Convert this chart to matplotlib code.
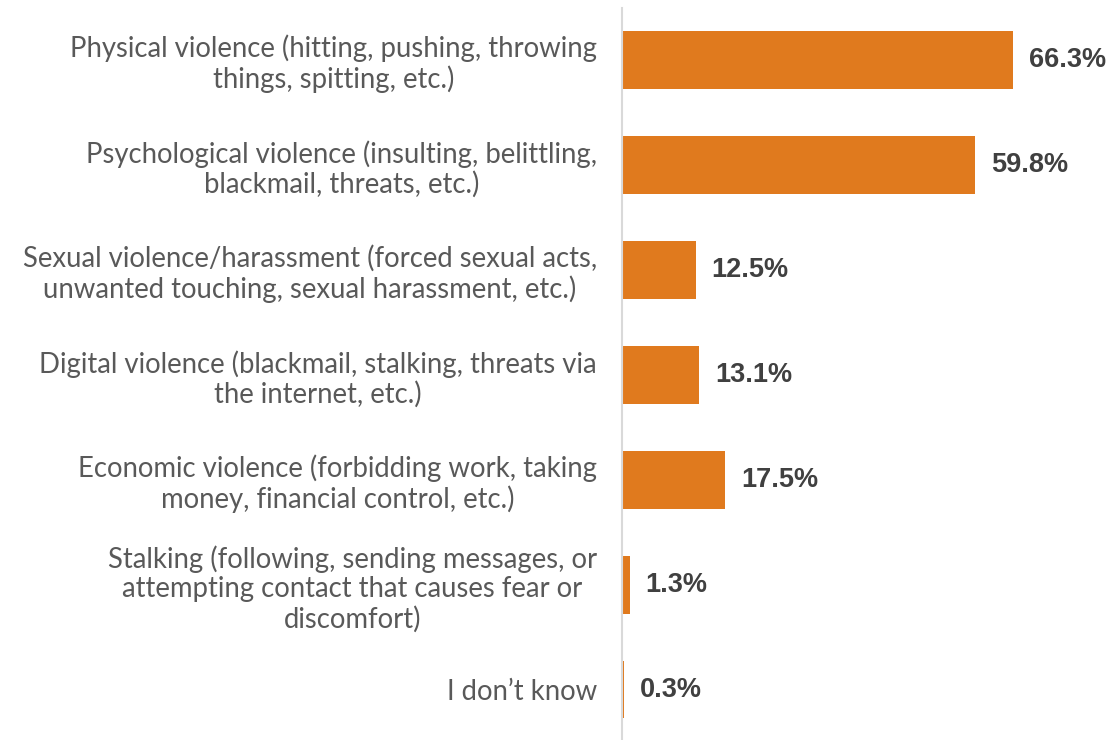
import matplotlib.pyplot as plt

categories = [
    "Physical violence (hitting, pushing, throwing\nthings, spitting, etc.)",
    "Psychological violence (insulting, belittling,\nblackmail, threats, etc.)",
    "Sexual violence/harassment (forced sexual acts,\nunwanted touching, sexual harassment, etc.)",
    "Digital violence (blackmail, stalking, threats via\nthe internet, etc.)",
    "Economic violence (forbidding work, taking\nmoney, financial control, etc.)",
    "Stalking (following, sending messages, or\nattempting contact that causes fear or\ndiscomfort)",
    "I don\u2019t know",
]
values = [66.3, 59.8, 12.5, 13.1, 17.5, 1.3, 0.3]

bar_color = "#E07A1E"
label_color = "#595959"
value_color = "#404040"

fig = plt.figure(figsize=(11.13, 7.40), dpi=100)
ax = fig.add_axes([622 / 1113, 0, 1 - 622 / 1113, 732 / 740])

ypos = list(range(len(values)))
bars = ax.barh(ypos, values, height=0.55, color=bar_color)

for y, v in zip(ypos, values):
    ax.text(v + 2.7, y, f"{v:.1f}%", va="center", ha="left",
            fontsize=19.5, fontweight="bold", color=value_color,
            family="Liberation Sans")

ax.set_xlim(0, 83.2)
ax.set_ylim(6.48, -0.495)
ax.set_yticks(ypos)
ax.set_yticklabels(categories, fontsize=19.8, color=label_color,
                   family="Lato", linespacing=1.15)
for lab in ax.get_yticklabels():
    lab.set_multialignment("center")
ax.tick_params(axis="y", length=0, pad=18)
ax.set_xticks([])

for side in ["top", "right", "bottom"]:
    ax.spines[side].set_visible(False)
ax.spines["left"].set_color("#D9D9D9")
ax.spines["left"].set_linewidth(1.5)

fig.savefig("out.png", dpi=100)
